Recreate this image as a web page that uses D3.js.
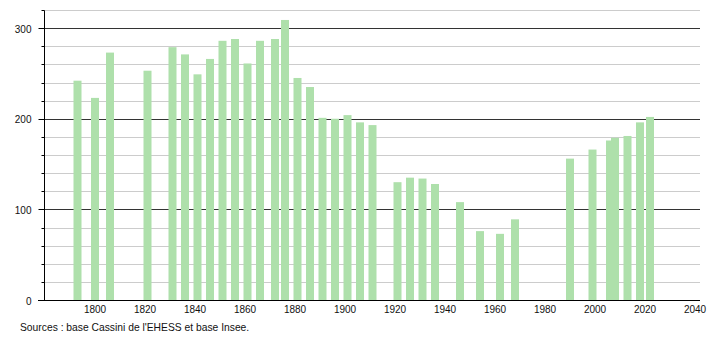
<!DOCTYPE html>
<html>
<head>
<meta charset="utf-8">
<script src="https://cdn.jsdelivr.net/npm/d3@7"></script>
<style>
body { margin: 0; background: #fff; }
text { font-family: "Liberation Sans", Arial, sans-serif; }
</style>
</head>
<body>
<div id="chart"></div>
<script>
// census years and population
var years = [1793, 1800, 1806, 1821, 1831, 1836, 1841, 1846, 1851, 1856,
  1861, 1866, 1872, 1876, 1881, 1886, 1891, 1896, 1901, 1906,
  1911, 1921, 1926, 1931, 1936, 1946, 1954, 1962, 1968, 1990,
  1999, 2006, 2008, 2013, 2018, 2022];
var population = [242, 223, 273, 253, 279, 271, 249, 266, 286, 288,
  261, 286, 288, 309, 245, 235, 201, 200, 204, 196,
  193, 130, 135, 134, 128, 108, 76, 73, 89, 156,
  166, 176, 179, 181, 196, 202];
var xTicks = [1800, 1820, 1840, 1860, 1880, 1900, 1920, 1940, 1960, 1980, 2000, 2020, 2040];
var yTicks = [0, 100, 200, 300];
var source = "Sources : base Cassini de l'EHESS et base Insee.";

var W = 710, H = 340;
var margin = {left: 44, top: 10, right: 10, bottom: 40};

var svg = d3.select("#chart").append("svg")
  .attr("width", W).attr("height", H);

var x = d3.scaleLinear()
  .domain([1779.6, 2043.6])
  .range([margin.left, 704]);
var y = d3.scaleLinear()
  .domain([0, 320])
  .range([300, 10]);

// grid lines every 20, darker every 100
var gridVals = d3.range(20, 321, 20);
svg.append("g").selectAll("line")
  .data(gridVals)
  .enter().append("line")
  .attr("x1", margin.left).attr("x2", 700)
  .attr("y1", function(d) { return Math.round(y(d)) + 0.5; })
  .attr("y2", function(d) { return Math.round(y(d)) + 0.5; })
  .attr("stroke", function(d) { return d % 100 == 0 ? "#333" : "#ccc"; })
  .attr("stroke-width", 1);

// bars
var bw = 8;
svg.append("g").selectAll("rect")
  .data(years)
  .enter().append("rect")
  .attr("x", function(d) { return x(d) - bw / 2; })
  .attr("y", function(d, i) { return y(population[i]); })
  .attr("width", bw)
  .attr("height", function(d, i) { return y(0) - y(population[i]); })
  .attr("fill", "#aee0ab");

// y axis
var yAxis = svg.append("g")
  .attr("transform", "translate(" + (margin.left + 0.5) + ",0.5)");
yAxis.append("line")
  .attr("x1", 0).attr("x2", 0)
  .attr("y1", Math.round(y(320))).attr("y2", Math.round(y(0)))
  .attr("stroke", "#000");
yAxis.selectAll(".minor")
  .data(gridVals)
  .enter().append("line")
  .attr("x1", -3).attr("x2", 0)
  .attr("y1", function(d) { return Math.round(y(d)); })
  .attr("y2", function(d) { return Math.round(y(d)); })
  .attr("stroke", "#000");
yAxis.selectAll(".major")
  .data(yTicks)
  .enter().append("line")
  .attr("x1", -6).attr("x2", 0)
  .attr("y1", function(d) { return Math.round(y(d)); })
  .attr("y2", function(d) { return Math.round(y(d)); })
  .attr("stroke", "#000");
yAxis.selectAll("text")
  .data(yTicks)
  .enter().append("text")
  .attr("x", -13)
  .attr("y", function(d) { return y(d) + 4; })
  .attr("text-anchor", "end")
  .attr("font-size", 10)
  .attr("fill", "#111")
  .text(function(d) { return d; });

// x axis
svg.append("line")
  .attr("x1", margin.left - 6).attr("x2", 700)
  .attr("y1", 300.5).attr("y2", 300.5)
  .attr("stroke", "#000");
svg.append("g").selectAll("text")
  .data(xTicks)
  .enter().append("text")
  .attr("x", function(d) { return x(d); })
  .attr("y", 313)
  .attr("text-anchor", "middle")
  .attr("font-size", 10)
  .attr("fill", "#111")
  .text(function(d) { return d; });

svg.append("text")
  .attr("x", 20).attr("y", 331)
  .attr("font-size", 10.3)
  .attr("fill", "#111")
  .text(source);
</script>
</body>
</html>
